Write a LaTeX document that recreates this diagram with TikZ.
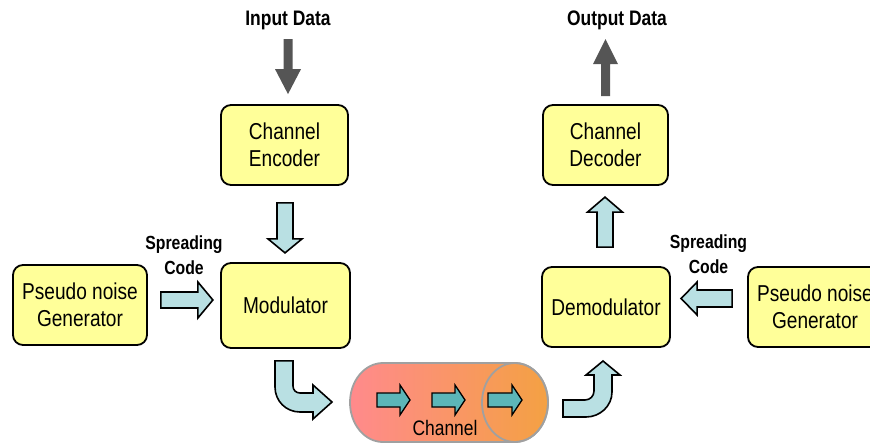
\documentclass[tikz,border=0pt]{standalone}
\usepackage{fontspec}
\setmainfont{Liberation Sans}[FakeStretch=0.83]
\usetikzlibrary{calc}
\definecolor{boxyellow}{HTML}{FFFF99}
\definecolor{lightblue}{HTML}{B9E0E3}
\definecolor{darkarrow}{HTML}{555555}
\definecolor{tealarrow}{HTML}{5CB6B8}
\definecolor{chanpink}{HTML}{FF8A8C}
\definecolor{chanorange}{HTML}{F4A143}
\definecolor{chanborder}{HTML}{A0A0A0}
\tikzset{
  block/.style={draw=black, line width=1.8pt, fill=boxyellow, rounded corners=10pt,
    align=center, inner sep=0pt, font=\fontsize{23}{27}\selectfont},
  lbl/.style={font=\bfseries\fontsize{21}{25}\selectfont, align=center, inner sep=0pt},
  sclbl/.style={font=\bfseries\fontsize{19}{25}\selectfont, align=center, inner sep=0pt},
  blockarrow/.style={draw=black, line width=1.6pt, fill=lightblue, line join=miter},
  darkarr/.style={fill=darkarrow},
  tealarr/.style={draw=black, line width=1.3pt, fill=tealarrow, line join=miter},
  curvearrow/.style={draw=black, line width=1.6pt, fill=lightblue, line join=miter}
}
% #1 style, #2 tail point, #3 angle, #4 length, #5 shaft width, #6 head width, #7 head length
\newcommand{\barr}[7]{%
  \path[#1, shift={(#2)}, rotate=#3] (0,{-#5/2}) -- ({#4-#7},{-#5/2}) -- ({#4-#7},{-#6/2})
    -- (#4,0) -- ({#4-#7},{#6/2}) -- ({#4-#7},{#5/2}) -- (0,{#5/2}) -- cycle;}
\begin{document}
\begin{tikzpicture}[x=1pt,y=-1pt]
\useasboundingbox (0,0) rectangle (870,444);
% boxes
\node[block, minimum width=127pt, minimum height=80pt] (enc) at (284.5,145) {Channel\\Encoder};
\node[block, minimum width=129pt, minimum height=85pt] (mod) at (285.5,305.5) {Modulator};
\node[block, minimum width=134pt, minimum height=80pt] (pnL) at (80,305) {Pseudo noise\\Generator};
\node[block, minimum width=125pt, minimum height=80pt] (dec) at (605.5,145) {Channel\\Decoder};
\node[block, minimum width=128pt, minimum height=80pt] (demod) at (606,307) {Demodulator};
\node[block, minimum width=134pt, minimum height=80pt] (pnR) at (815,307) {Pseudo noise\\Generator};
% labels
\node[lbl] (inlbl) at (288,20) {Input Data};
\node[lbl] (outlbl) at (617,20) {Output Data};
\node[sclbl] (scL) at (184,255) {Spreading\\Code};
\node[sclbl] (scR) at (708.5,254) {Spreading\\Code};
% dark arrows
\coordinate (inT) at ($(enc.north)+(3.5,-65)$);
\barr{darkarr}{inT}{-90}{55}{9}{26}{25}
\coordinate (outT) at ($(dec.north)+(0,-8)$);
\barr{darkarr}{outT}{90}{57}{9}{25}{25}
% block arrows between boxes
\coordinate (a1T) at ($(enc.south)+(0.5,17)$);
\barr{blockarrow}{a1T}{-90}{50}{16}{34}{14}
\coordinate (a2T) at ($(pnL.east)+(13,-5)$);
\barr{blockarrow}{a2T}{0}{52}{16}{36}{15}
\coordinate (a3T) at ($(pnR.west)+(-15,-8.5)$);
\barr{blockarrow}{a3T}{180}{51}{17}{33}{16}
\coordinate (a4T) at ($(demod.north)+(-1,-19)$);
\barr{blockarrow}{a4T}{90}{50}{16}{35}{15}
% channel
\coordinate (chL) at (383,402.5);
\coordinate (chR) at (515,402.5);
\path[left color=chanpink, right color=chanorange, draw=chanborder, line width=1.8pt]
  (383,363) -- (515,363) arc[start angle=-90, end angle=90, x radius=33, y radius=39.5]
  -- (383,442) arc[start angle=90, end angle=270, x radius=33, y radius=39.5] -- cycle;
\draw[chanborder, line width=1.8pt] (chR) ellipse[x radius=33, y radius=39.5];
\coordinate (t1) at (377,400);
\coordinate (t2) at (432,400);
\coordinate (t3) at (488,400);
\barr{tealarr}{t1}{0}{33}{14}{30}{10}
\barr{tealarr}{t2}{0}{33}{14}{30}{10}
\barr{tealarr}{t3}{0}{34}{14}{30}{10}
\node[font=\fontsize{21}{25}\selectfont, inner sep=0pt] (chan) at (445,428) {Channel};
% curved arrows
\coordinate (cl) at ($(mod.south)+(-1.5,12)$);
\draw[curvearrow] (cl) ++(-9,0) -- ++(18,0) -- (293,386)
  .. controls (293,390) and (296,393) .. (300,393) -- (313,393) -- (313,385)
  -- (332,402) -- (313,419) -- (313,412) -- (300,412)
  .. controls (286,412) and (275,401) .. (275,387) -- cycle;
\coordinate (cr) at (563,400);
\draw[curvearrow] (cr) -- (585,400) .. controls (590,400) and (594,396) .. (594,391)
  -- (594,375) -- (586,375) -- (603,361) -- (620,375) -- (612,375) -- (612,392)
  .. controls (612,406) and (600,417) .. (586,417) -- (563,417) -- cycle;
\end{tikzpicture}
\end{document}
